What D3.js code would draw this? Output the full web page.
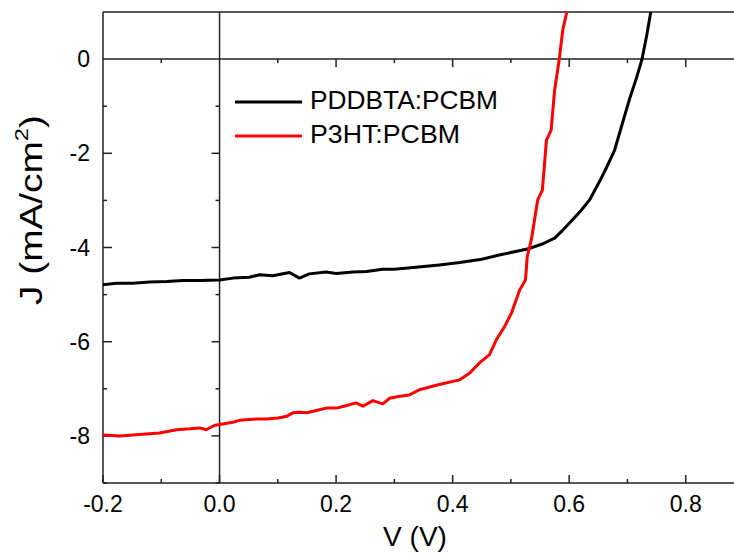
<!DOCTYPE html>
<html>
<head>
<meta charset="utf-8">
<script src="https://cdn.jsdelivr.net/npm/d3@7/dist/d3.min.js"></script>
<style>
  body { margin: 0; background: #fff; }
  svg { display: block; overflow: hidden; }
  text { font-family: "Liberation Sans", Arial, sans-serif; fill: #000; }
</style>
</head>
<body>
<svg width="734" height="553"></svg>
<script>
// PDDBTA:PCBM (black)
const pddbtaV = [-0.2, -0.177, -0.149, -0.12, -0.091, -0.063, -0.034, 0, 0.023, 0.051, 0.069, 0.091, 0.12, 0.137, 0.154, 0.183, 0.2, 0.229, 0.252, 0.28, 0.3, 0.337, 0.377, 0.412, 0.45, 0.48, 0.51, 0.532, 0.555, 0.575, 0.59, 0.605, 0.62, 0.635, 0.652, 0.665, 0.678, 0.69, 0.703, 0.715, 0.725, 0.733, 0.740];
const pddbtaJ = [-4.79, -4.76, -4.76, -4.73, -4.72, -4.70, -4.70, -4.69, -4.65, -4.63, -4.58, -4.60, -4.53, -4.65, -4.56, -4.52, -4.55, -4.52, -4.51, -4.46, -4.46, -4.42, -4.37, -4.32, -4.25, -4.16, -4.08, -4.02, -3.92, -3.80, -3.62, -3.42, -3.22, -2.99, -2.60, -2.28, -1.93, -1.42, -0.87, -0.42, 0, 0.5, 1.0];

// P3HT:PCBM (red)
const p3htV = [-0.2, -0.172, -0.137, -0.103, -0.074, -0.051, -0.034, -0.023, -0.009, 0, 0.023, 0.034, 0.063, 0.08, 0.1, 0.114, 0.126, 0.137, 0.15, 0.166, 0.183, 0.2, 0.217, 0.234, 0.246, 0.263, 0.28, 0.292, 0.309, 0.326, 0.343, 0.377, 0.412, 0.429, 0.446, 0.463, 0.475, 0.489, 0.501, 0.515, 0.525, 0.528, 0.535, 0.546, 0.554, 0.561, 0.569, 0.575, 0.583, 0.589, 0.596];
const p3htJ = [-7.98, -8.0, -7.97, -7.94, -7.87, -7.85, -7.83, -7.87, -7.78, -7.76, -7.71, -7.67, -7.64, -7.64, -7.62, -7.59, -7.51, -7.50, -7.51, -7.46, -7.41, -7.41, -7.36, -7.30, -7.37, -7.25, -7.32, -7.20, -7.16, -7.13, -7.02, -6.91, -6.81, -6.67, -6.45, -6.28, -5.96, -5.68, -5.39, -4.90, -4.69, -4.20, -3.84, -2.99, -2.78, -1.72, -1.51, -0.66, 0, 0.62, 1.0];

const xTicks = [-0.2, 0.0, 0.2, 0.4, 0.6, 0.8];
const xMinor = [-0.1, 0.1, 0.3, 0.5, 0.7];
const yTicks = [-8, -6, -4, -2, 0];
const yMinor = [-9, -7, -5, -3, -1];

const seriesNames = ["PDDBTA:PCBM", "P3HT:PCBM"];
const seriesColors = ["#000000", "#ff0000"];

const svg = d3.select("svg");

const pLeft = 103, pTop = 12, pBottom = 483, pRight = 744;
const x = d3.scaleLinear().domain([-0.2, 0.9]).range([pLeft, pRight]);
const y = d3.scaleLinear().domain([-9, 1]).range([pBottom, pTop]);

const frame = "#222";

// clip for curves
svg.append("clipPath").attr("id", "plot")
  .append("rect").attr("x", pLeft).attr("y", pTop)
  .attr("width", pRight - pLeft).attr("height", pBottom - pTop);

// frame lines
const g = svg.append("g").attr("stroke", frame).attr("stroke-width", 1.5).attr("fill", "none");
g.append("line").attr("x1", pLeft).attr("x2", pLeft).attr("y1", pTop).attr("y2", pBottom);
g.append("line").attr("x1", pLeft).attr("x2", pRight).attr("y1", pTop).attr("y2", pTop);
g.append("line").attr("x1", pLeft).attr("x2", pRight).attr("y1", pBottom).attr("y2", pBottom);
// zero lines
g.append("line").attr("x1", pLeft).attr("x2", pRight).attr("y1", y(0)).attr("y2", y(0));
g.append("line").attr("x1", x(0)).attr("x2", x(0)).attr("y1", pTop).attr("y2", pBottom);

// ticks on bottom (inward, up)
g.selectAll(".xt").data(xTicks).join("line")
  .attr("x1", d => x(d)).attr("x2", d => x(d))
  .attr("y1", pBottom).attr("y2", pBottom - 8);
g.selectAll(".xm").data(xMinor).join("line")
  .attr("x1", d => x(d)).attr("x2", d => x(d))
  .attr("y1", pBottom).attr("y2", pBottom - 4);
// ticks on y=0 line (down)
g.selectAll(".xt0").data(xTicks.filter(d => d !== 0 && d !== -0.2)).join("line")
  .attr("x1", d => x(d)).attr("x2", d => x(d))
  .attr("y1", y(0)).attr("y2", y(0) + 8);
g.selectAll(".xm0").data(xMinor).join("line")
  .attr("x1", d => x(d)).attr("x2", d => x(d))
  .attr("y1", y(0)).attr("y2", y(0) + 4);

// ticks on left axis (inward, right)
g.selectAll(".yt").data(yTicks.filter(d => d !== 0)).join("line")
  .attr("x1", pLeft).attr("x2", pLeft + 9)
  .attr("y1", d => y(d)).attr("y2", d => y(d));
g.selectAll(".ym").data(yMinor).join("line")
  .attr("x1", pLeft).attr("x2", pLeft + 4)
  .attr("y1", d => y(d)).attr("y2", d => y(d));
// ticks on x=0 line (left)
g.selectAll(".yt0").data(yTicks.filter(d => d !== 0)).join("line")
  .attr("x1", x(0)).attr("x2", x(0) - 8)
  .attr("y1", d => y(d)).attr("y2", d => y(d));
g.selectAll(".ym0").data(yMinor).join("line")
  .attr("x1", x(0)).attr("x2", x(0) - 4)
  .attr("y1", d => y(d)).attr("y2", d => y(d));

// tick labels (plain hyphen minus, like the original)
svg.selectAll(".xl").data(xTicks).join("text")
  .attr("x", d => x(d)).attr("y", 512)
  .attr("text-anchor", "middle").attr("font-size", 23)
  .text(d => d.toFixed(1));
svg.selectAll(".yl").data(yTicks).join("text")
  .attr("x", 90).attr("y", d => y(d)).attr("dy", "0.35em")
  .attr("text-anchor", "end").attr("font-size", 23)
  .text(d => String(d));

// axis titles
svg.append("text")
  .attr("x", 415).attr("y", 546)
  .attr("text-anchor", "middle").attr("font-size", 28)
  .text("V (V)");

const yt = svg.append("text")
  .attr("transform", "translate(42,210) rotate(-90)")
  .attr("text-anchor", "middle").attr("font-size", 31)
  .attr("textLength", 190).attr("lengthAdjust", "spacingAndGlyphs");
yt.append("tspan").text("J (mA/cm");
yt.append("tspan").attr("font-size", 19).attr("dy", -14).text("2");
yt.append("tspan").attr("dy", 14).text(")");

// curves
const line = d3.line().x(d => x(d[0])).y(d => y(d[1]));
const series = [
  d3.zip(pddbtaV, pddbtaJ),
  d3.zip(p3htV, p3htJ)
];
svg.append("g").attr("clip-path", "url(#plot)")
  .selectAll("path").data(series).join("path")
  .attr("d", line)
  .attr("fill", "none")
  .attr("stroke", (d, i) => seriesColors[i])
  .attr("stroke-width", 3)
  .attr("stroke-linejoin", "round");

// legend
const lg = svg.append("g");
const legY = [102, 136];
const legLen = [188, 150];
seriesNames.forEach((name, i) => {
  lg.append("line")
    .attr("x1", 235).attr("x2", 302)
    .attr("y1", legY[i]).attr("y2", legY[i])
    .attr("stroke", seriesColors[i]).attr("stroke-width", 3);
  lg.append("text")
    .attr("x", 310).attr("y", legY[i] + 7)
    .attr("font-size", 25)
    .attr("textLength", legLen[i]).attr("lengthAdjust", "spacingAndGlyphs")
    .text(name);
});
</script>
</body>
</html>
